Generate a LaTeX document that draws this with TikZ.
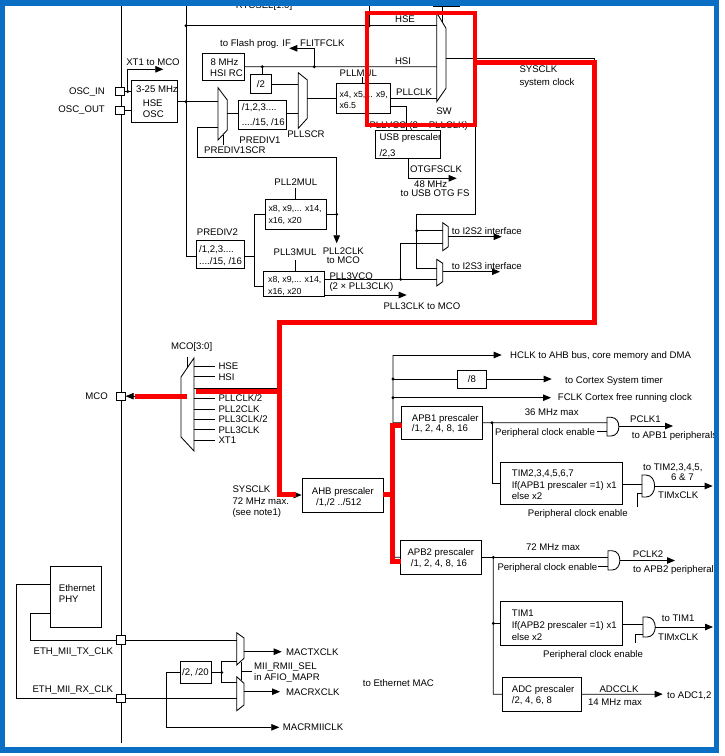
\documentclass[tikz,border=0pt]{standalone}
\usepackage{fontspec}
\setmainfont{Liberation Sans}
\usetikzlibrary{arrows.meta,fit}
\definecolor{frameblue}{RGB}{10,110,196}
\definecolor{hired}{RGB}{250,0,0}
\newcommand\fsz{\fontsize{9.6}{11}\selectfont}
\newcommand\fsm{\fontsize{8.8}{10}\selectfont}
\begin{document}
\begin{tikzpicture}[x=1pt,y=-1pt,
  ln/.style={line width=0.75pt},
  ar/.style={line width=0.75pt,-{Triangle[length=8pt,width=6.5pt]}},
  boxn/.style={draw,line width=0.85pt,inner sep=0pt},
  txt/.style={inner sep=0pt,font=\fsz,text height=6.9pt,text depth=0pt},
  txs/.style={inner sep=0pt,font=\fsm,text height=6.3pt,text depth=0pt},
  dotn/.style={circle,fill,inner sep=0pt,minimum size=3.2pt},
  padn/.style={draw,fill=white,line width=0.85pt,inner sep=0pt,minimum size=8.5pt},
  muxn/.style={line width=0.85pt},
  redl/.style={draw=hired,line width=5pt},
]
\fill[white] (0,0) rectangle (724,756);
\useasboundingbox (0,0) rectangle (724,756);

% ---------------- boxes
\node[boxn,fit={(131.7,80) (177.3,122.7)}] (hseosc) {};
\node[boxn,fit={(202.7,53.3) (244.3,80)}] (hsirc) {};
\node[boxn,fit={(250,74) (271.7,93.3)}] (divtwo) {};
\node[boxn,fit={(238.3,100) (286,129.3)}] (prediv1) {};
\node[boxn,fit={(336,83.3) (390.7,113.3)}] (pllmul) {};
\node[boxn,fit={(375,130) (440.7,158.3)}] (usbpre) {};
\node[boxn,fit={(265,199.3) (326.7,229.3)}] (pll2mul) {};
\node[boxn,fit={(196.7,240) (244,268.3)}] (prediv2) {};
\node[boxn,fit={(263.3,271.7) (324,296.7)}] (pll3mul) {};
\node[boxn,fit={(457.7,370) (486,388)}] (diveight) {};
\node[boxn,fit={(401.7,406) (482.7,439.3)}] (apb1) {};
\node[boxn,fit={(500,462.7) (622.3,504)}] (timx) {};
\node[boxn,fit={(302,478) (383,512)}] (ahb) {};
\node[boxn,fit={(400.7,540.7) (481.7,574)}] (apb2) {};
\node[boxn,fit={(500.7,601.7) (622.3,645)}] (timone) {};
\node[boxn,fit={(502.7,677.3) (581.7,711)}] (adc) {};
\node[boxn,fit={(50,566) (101,627.3)}] (phy) {};
\node[boxn,fit={(180,661.7) (211,683.3)}] (divmac) {};

% ---------------- muxes
\draw[muxn] (436.7,12.7) -- (446,28.3) -- (446,88.3) -- (436.7,101.7) -- cycle;
\draw[muxn] (218,87.7) -- (227.3,100) -- (227.3,130) -- (218,140) -- cycle;
\draw[muxn] (298.3,72.7) -- (307.3,80) -- (307.3,118.3) -- (298.3,128.3) -- cycle;
\draw[muxn] (442.7,222.7) -- (448.3,226.7) -- (448.3,246.7) -- (442.7,250.7) -- cycle;
\draw[muxn] (436.7,259.3) -- (442.7,263.3) -- (442.7,281.7) -- (436.7,286) -- cycle;
\draw[muxn] (181,377) -- (194,358) -- (194,451) -- (181,437) -- cycle;
\draw[muxn] (236.7,632.7) -- (244,638) -- (244,658.3) -- (236.7,665) -- cycle;
\draw[muxn] (236.7,676.7) -- (244,683.3) -- (244,705) -- (236.7,710.7) -- cycle;

% ---------------- AND gates
\draw[muxn] (607,417.3) -- (611,417.3) .. controls (621.5,417.3) and (621.5,436) .. (611,436) -- (607,436) -- cycle;
\draw[muxn] (642,475) -- (646,475) .. controls (657.5,475) and (657.5,497) .. (646,497) -- (642,497) -- cycle;
\draw[muxn] (608,550.7) -- (612,550.7) .. controls (622.5,550.7) and (622.5,570) .. (612,570) -- (608,570) -- cycle;
\draw[muxn] (643,617) -- (647,617) .. controls (658,617) and (658,637) .. (647,637) -- (643,637) -- cycle;

% ---------------- main vertical lines
\draw[ln] (121,5) -- (121,743);
\draw[ln] (186,5) -- (186,256) -- (prediv2.west |- 0,256);
\draw[ln] (369.3,5) -- (369.3,25.7);
\draw[ln] (186,25.7) -- (436.7,25.7);
\node[dotn] (dA) at (186,25.7) {};
\node[dotn] (dB) at (369.3,25.7) {};
\draw[ln] (433,6.5) -- (460,6.5);
\draw[ln] (442.7,6.5) -- (442.7,22);

% ---------------- pads
\node[padn] (oscin) at (120,91.5) {};
\node[padn] (oscout) at (120,110.5) {};
\node[padn] (mco) at (121,396.2) {};
\node[padn] (ethtx) at (121,640) {};
\node[padn] (ethrx) at (121,698.3) {};

% ---------------- HSE / HSI / PLL
\draw[ln] (oscin.east) -- (hseosc.west |- oscin);
\draw[ln] (oscout.east) -- (hseosc.west |- oscout);
\node[dotn] (dD) at (127.7,91.5) {};
\draw[ar] (dD.center) -- (127.7,69.3) -- (163.3,69.3);
\draw[ln] (hseosc.east |- 0,101.7) -- (218,101.7);
\node[dotn] (dC) at (186,101.7) {};
\draw[ln] (hsirc.east) -- (436.7,66.7);
\node[dotn] (dE) at (262.3,66.7) {};
\node[dotn] (dF) at (314.3,66.7) {};
\draw[ln] (dE.center) -- (dE.center |- divtwo.north);
\draw[ar] (dF.center) -- (314.3,48.3) -- (289.3,48.3);
\draw[ln] (divtwo.east |- 0,84) -- (298.3,84);
\draw[ln] (227.3,113.3) -- (prediv1.west |- 0,113.3);
\draw[ln] (prediv1.east |- 0,113.3) -- (298.3,113.3);
\draw[ln] (223,134.6) -- (223,145);
\draw[ln] (307.3,98.3) -- (pllmul.west);
\draw[ln] (pllmul.east) -- (436.7,98.3);
\draw[ln] (pllmul.east |- 0,106.7) -- (406.7,106.7) -- (406.7,130);
\draw[ln] (362.7,77) -- (362.7,83.3);
\draw[ar] (408.3,158.3) -- (408.3,178.3) -- (456.7,178.3);

% ---------------- PLL2 / PLL3
\node[dotn] (dG) at (336.7,214.3) {};
\draw[ln] (pll2mul.east) -- (dG.center);
\draw[ar] (dG.center) -- (336.7,243.3);
\draw[ln] (dG.center) -- (336.7,157.3) -- (197.7,157.3) -- (197.7,127.3) -- (218,127.3);
\draw[ln] (prediv2.east |- 0,256) -- (254,256);
\draw[ln] (254,214.3) -- (254,286.7);
\draw[ln] (254,214.3) -- (pll2mul.west);
\draw[ln] (254,286.7) -- (pll3mul.west |- 0,286.7);
\draw[ln] (295,188.3) -- (295,199.3);
\draw[ln] (295,260) -- (295,271.7);
\draw[ln] (pll3mul.east |- 0,279.3) -- (436.7,279.3);
\node[dotn] (dH) at (400.7,279.3) {};
\draw[ln] (dH.center) -- (400.7,243.3) -- (442.7,243.3);
\draw[ar] (pll3mul.east |- 0,295) -- (406.7,295);

% ---------------- SYSCLK (black, under red)
\draw[ln] (446,58) -- (594,58) -- (594,322) -- (280,322) -- (280,495);
\draw[ar] (280,495) -- (ahb.west);
\draw[ln] (194,388.3) -- (280,388.3);
\draw[ln] (475,58) -- (475,214.3) -- (416.7,214.3) -- (416.7,268.3) -- (436.7,268.3);
\node[dotn] (dI) at (416.7,230.7) {};
\draw[ln] (dI.center) -- (442.7,230.7);
\draw[ar] (448.3,236.7) -- (501.7,236.7);
\draw[ar] (442.7,271.7) -- (500,271.7);

% ---------------- MCO
\draw[ln] (187.3,356.5) -- (187.3,367.8);
\foreach \yy in {366,376.7,398.3,409,419.3,429.7,440} \draw[ln] (194,\yy) -- (215,\yy);
\draw[ar] (181,396.2) -- (mco.east);

% ---------------- AHB bus
\draw[ln] (apb2.west) -- (393,557.3) -- (393,355);
\draw[ar] (393,355) -- (501.7,355);
\draw[ln] (393,422.65) -- (apb1.west);
\draw[ln] (ahb.east) -- (393,495);
\node[dotn] (dJ) at (393,379) {};
\node[dotn] (dK) at (393,397.7) {};
\node[dotn] (dX) at (393,495) {};
\draw[ln] (dJ.center) -- (diveight.west);
\draw[ar] (diveight.east) -- (551.7,379);
\draw[ar] (dK.center) -- (551,397.7);

% ---------------- APB1
\draw[ln] (apb1.east) -- (607,422.65);
\node[dotn] (dL) at (492,422.65) {};
\draw[ln] (dL.center) -- (492,483.35) -- (timx.west);
\draw[ln] (597,431.7) -- (607,431.7);
\draw[ar] (619,426) -- (673,426);
\draw[ln] (timx.east |- 0,484) -- (642,484);
\draw[ar] (654.6,486) -- (712.7,486);
\draw[ln] (637,507) -- (637,493.3) -- (642,493.3);

% ---------------- APB2
\draw[ln] (apb2.east) -- (608,557.35);
\node[dotn] (dM) at (493.3,557.35) {};
\node[dotn] (dO) at (493.3,623.35) {};
\draw[ln] (dM.center) -- (493.3,694.15) -- (adc.west);
\draw[ln] (dO.center) -- (timone.west);
\draw[ln] (598,566.7) -- (608,566.7);
\draw[ar] (620,560.5) -- (675,560.5);
\draw[ln] (timone.east |- 0,624) -- (643,624);
\draw[ar] (655.2,627) -- (713,627);
\draw[ln] (635,643) -- (635,634) -- (643,634);
\draw[ar] (adc.east) -- (662.7,694.15);

% ---------------- Ethernet
\draw[ln] (phy.west |- 0,584) -- (16.7,584) -- (16.7,698.3) -- (ethrx.west);
\draw[ln] (phy.west |- 0,613.3) -- (30,613.3) -- (30,640) -- (ethtx.west);
\draw[ln] (ethtx.east) -- (236.7,640);
\draw[ln] (ethrx.east) -- (236.7,698.3);
\draw[ar] (divmac.west) -- (166.7,672.5) -- (166.7,727.3) -- (279.3,727.3);
\node[dotn] (dN) at (221.7,672.5) {};
\draw[ln] (divmac.east) -- (dN.center);
\draw[ln] (236.7,661.7) -- (221.7,661.7) -- (221.7,682.7) -- (236.7,682.7);
\draw[ar] (244,651.7) -- (281.7,651.7);
\draw[ar] (244,691.7) -- (280,691.7);
\draw[ln] (241,662) -- (241,680);
\draw[ln] (241,671.5) -- (252,671.5);

% ---------------- texts
\node[txt] (t01) at (264,4.8) {RTCSEL[1:0]};
\node[txt] (t02) at (405,19) {HSE};
\node[txt,anchor=west] (t03) at (220,43.3) {to Flash prog. IF};
\node[txt,anchor=west] (t04) at (300,43.3) {FLITFCLK};
\node[txt] (t05) at (403,61) {HSI};
\node[txt,anchor=west] (t06) at (210.5,62.3) {8 MHz};
\node[txt,anchor=west] (t07) at (210,72.7) {HSI RC};
\node[txt] (t08) at (divtwo) {/2};
\node[txt,anchor=west] (t09) at (241.7,106.7) {/1,2,3....};
\node[txt,anchor=west] (t10) at (241.7,121.7) {..../15, /16};
\node[txt] (t11) at (260,140) {PREDIV1};
\node[txt,anchor=west] (t12) at (204,150) {PREDIV1SCR};
\node[txt] (t13) at (306,134.3) {PLLSCR};
\node[txt] (t14) at (358.3,73.3) {PLLMUL};
\node[txs,anchor=west] (t15) at (339.3,94) {x4, x5,... x9,};
\node[txs,anchor=west] (t16) at (339.3,105) {x6.5};
\node[txt,anchor=west] (t17) at (396,91.7) {PLLCLK};
\node[txt] (t18) at (444,110.7) {SW};
\node[txt,anchor=west] (t19) at (369.3,125.5) {PLLVCO (2 × PLLCLK)};
\node[txt,anchor=west] (t20) at (379.3,136.7) {USB prescaler};
\node[txt,anchor=west] (t21) at (379.3,152.7) {/2,3};
\node[txt,anchor=west] (t22) at (410,169.3) {OTGFSCLK};
\node[txt] (t23) at (430.7,184) {48 MHz};
\node[txt] (t24) at (435,193.3) {to USB OTG FS};
\node[txt,anchor=west] (t25) at (519.3,69) {SYSCLK};
\node[txt,anchor=west] (t26) at (519.3,82.3) {system clock};
\node[txt] (t27) at (153,61.7) {XT1 to MCO};
\node[txt,anchor=east] (t28) at (105,91.5) {OSC\_IN};
\node[txt,anchor=east] (t29) at (105,109.5) {OSC\_OUT};
\node[txt,anchor=west] (t30) at (136,89.3) {3-25 MHz};
\node[txt,anchor=west] (t31) at (142.7,103.3) {HSE};
\node[txt,anchor=west] (t32) at (142.7,114) {OSC};
\node[txt] (t33) at (295.8,181.7) {PLL2MUL};
\node[txs,anchor=west] (t34) at (268.3,208.3) {x8, x9,... x14,};
\node[txs,anchor=west] (t35) at (268.3,220) {x16, x20};
\node[txt] (t36) at (343.3,251) {PLL2CLK};
\node[txt] (t37) at (343.3,260.5) {to MCO};
\node[txt,anchor=west] (t38) at (196.7,231.7) {PREDIV2};
\node[txt,anchor=west] (t39) at (199,249.3) {/1,2,3....};
\node[txt,anchor=west] (t40) at (199,260.7) {..../15, /16};
\node[txt] (t41) at (295,251.7) {PLL3MUL};
\node[txs,anchor=west] (t42) at (268,279.3) {x8, x9,... x14,};
\node[txs,anchor=west] (t43) at (268,291) {x16, x20};
\node[txt,anchor=west] (t44) at (329.3,275.7) {PLL3VCO};
\node[txt,anchor=west] (t45) at (329.3,286) {(2 × PLL3CLK)};
\node[txt,anchor=west] (t46) at (383.3,305.7) {PLL3CLK to MCO};
\node[txt,anchor=west] (t47) at (451.7,230.7) {to I2S2 interface};
\node[txt,anchor=west] (t48) at (451.7,266) {to I2S3 interface};
\node[txt] (t49) at (191.7,346) {MCO[3:0]};
\node[txt,anchor=west] (t50) at (218.3,366) {HSE};
\node[txt,anchor=west] (t51) at (218.3,376.7) {HSI};
\node[txt,anchor=west] (t52) at (218.3,398.3) {PLLCLK/2};
\node[txt,anchor=west] (t53) at (218.3,409) {PLL2CLK};
\node[txt,anchor=west] (t54) at (218.3,419.3) {PLL3CLK/2};
\node[txt,anchor=west] (t55) at (218.3,429.7) {PLL3CLK};
\node[txt,anchor=west] (t56) at (218.3,440) {XT1};
\node[txt,anchor=east] (t57) at (108,396.2) {MCO};
\node[txt,anchor=west] (t58) at (510,355) {HCLK to AHB bus, core memory and DMA};
\node[txt] (t59) at (diveight) {/8};
\node[txt,anchor=west] (t60) at (565,380) {to Cortex System timer};
\node[txt,anchor=west] (t61) at (557.7,397.5) {FCLK Cortex free running clock};
\node[txt,anchor=west] (t62) at (411.7,417.7) {APB1 prescaler};
\node[txt,anchor=west] (t63) at (411.7,428.3) {/1, 2, 4, 8, 16};
\node[txt] (t64) at (551.7,411.7) {36 MHz max};
\node[txt,anchor=west] (t65) at (495,431.7) {Peripheral clock enable};
\node[txt,anchor=west] (t66) at (630,419) {PCLK1};
\node[txt,anchor=west] (t67) at (631.7,435) {to APB1 peripherals};
\node[txt,anchor=west] (t68) at (511.7,473.3) {TIM2,3,4,5,6,7};
\node[txt,anchor=west] (t69) at (511.7,485) {If(APB1 prescaler =1) x1};
\node[txt,anchor=west] (t70) at (511.7,496) {else x2};
\node[txt,anchor=west] (t71) at (643,466.7) {to TIM2,3,4,5,};
\node[txt,anchor=west] (t72) at (671,476.7) {6 \& 7};
\node[txt,anchor=west] (t73) at (658,495) {TIMxCLK};
\node[txt,anchor=west] (t74) at (527.7,513) {Peripheral clock enable};
\node[txt,anchor=west] (t75) at (232.3,489.3) {SYSCLK};
\node[txt,anchor=west] (t76) at (232.3,501) {72 MHz max.};
\node[txt,anchor=west] (t77) at (232.3,512.3) {(see note1)};
\node[txt,anchor=west] (t78) at (311.7,490.7) {AHB prescaler};
\node[txt,anchor=west] (t79) at (316,501.7) {/1,/2 ../512};
\node[txt,anchor=west] (t80) at (407.3,552.3) {APB2 prescaler};
\node[txt,anchor=west] (t81) at (410.7,563.3) {/1, 2, 4, 8, 16};
\node[txt] (t82) at (553,546.7) {72 MHz max};
\node[txt,anchor=west] (t83) at (497.3,566.7) {Peripheral clock enable};
\node[txt,anchor=west] (t84) at (632.7,554) {PCLK2};
\node[txt,anchor=west] (t85) at (633,569.3) {to APB2 peripherals};
\node[txt,anchor=west] (t86) at (511.7,613.3) {TIM1};
\node[txt,anchor=west] (t87) at (511.7,625) {If(APB2 prescaler =1) x1};
\node[txt,anchor=west] (t88) at (511.7,636.7) {else x2};
\node[txt,anchor=west] (t89) at (661.7,618) {to TIM1};
\node[txt,anchor=west] (t90) at (658,637) {TIMxCLK};
\node[txt,anchor=west] (t91) at (543,654) {Peripheral clock enable};
\node[txt,anchor=west] (t92) at (511.7,689) {ADC prescaler};
\node[txt,anchor=west] (t93) at (511.7,700) {/2, 4, 6, 8};
\node[txt] (t94) at (619,689) {ADCCLK};
\node[txt] (t95) at (615,701.7) {14 MHz max};
\node[txt,anchor=west] (t96) at (667,695) {to ADC1,2};
\node[txt,anchor=west] (t97) at (58.7,588.3) {Ethernet};
\node[txt,anchor=west] (t98) at (58.7,599) {PHY};
\node[txt,anchor=east] (t99) at (113.3,651) {ETH\_MII\_TX\_CLK};
\node[txt,anchor=east] (t100) at (113.3,689.3) {ETH\_MII\_RX\_CLK};
\node[txt] (t101) at (divmac) {/2, /20};
\node[txt,anchor=west] (t102) at (286,651.7) {MACTXCLK};
\node[txt,anchor=west] (t103) at (286,691.7) {MACRXCLK};
\node[txt,anchor=west] (t104) at (282.7,727.3) {MACRMIICLK};
\node[txt,anchor=west] (t105) at (254,666) {MII\_RMII\_SEL};
\node[txt,anchor=west] (t106) at (254,677.3) {in AFIO\_MAPR};
\node[txt,anchor=west] (t107) at (362.7,682.7) {to Ethernet MAC};

% ---------------- red highlight
\draw[redl] (475.3,62.5) -- (594.7,62.5) -- (594.7,322) -- (279.7,322) -- (279.7,494.8) -- (296,494.8);
\draw[redl] (279.7,391.2) -- (196,391.2);
\draw[redl] (187.3,396.3) -- (135,396.3);
\draw[redl] (383,494.5) -- (392,494.5);
\draw[redl] (402,425.3) -- (392,425.3) -- (392,561.3) -- (401,561.3);
\draw[draw=hired,line width=4pt] (366.7,13.3) rectangle (475.3,125);

% ---------------- frame
\draw[frameblue,line width=5.5pt] (2.7,2.8) rectangle (716.3,750);
\end{tikzpicture}
\end{document}
